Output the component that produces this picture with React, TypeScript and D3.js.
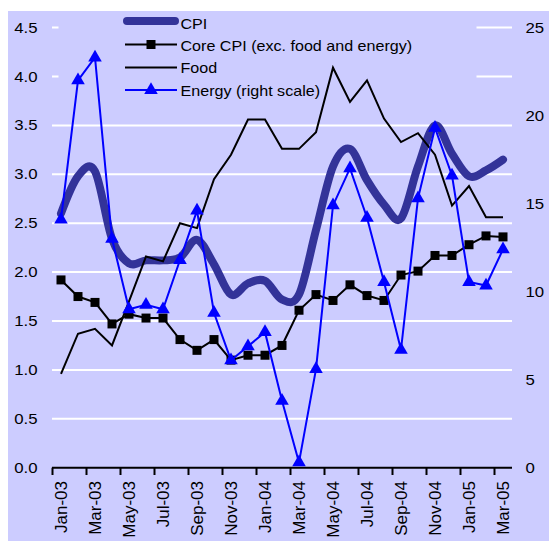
import React from "react";
import * as d3 from "d3";

const months = [
  "Jan-03","Feb-03","Mar-03","Apr-03","May-03","Jun-03","Jul-03","Aug-03","Sep-03","Oct-03","Nov-03","Dec-03",
  "Jan-04","Feb-04","Mar-04","Apr-04","May-04","Jun-04","Jul-04","Aug-04","Sep-04","Oct-04","Nov-04","Dec-04",
  "Jan-05","Feb-05","Mar-05",
];
const cpi = [2.60, 2.98, 3.03, 2.34, 2.09, 2.12, 2.12, 2.15, 2.33, 2.08, 1.77, 1.885, 1.91, 1.72, 1.77, 2.43, 3.08, 3.26, 2.94, 2.69, 2.55, 3.08, 3.50, 3.21, 2.98, 3.04, 3.15];
const core = [1.92, 1.75, 1.69, 1.47, 1.57, 1.53, 1.53, 1.31, 1.20, 1.31, 1.10, 1.15, 1.15, 1.25, 1.61, 1.77, 1.71, 1.87, 1.76, 1.71, 1.97, 2.01, 2.17, 2.17, 2.28, 2.37, 2.36];
const food = [0.96, 1.37, 1.42, 1.25, 1.70, 2.16, 2.11, 2.50, 2.45, 2.95, 3.20, 3.56, 3.56, 3.26, 3.26, 3.43, 4.09, 3.74, 3.96, 3.57, 3.33, 3.42, 3.20, 2.68, 2.88, 2.56, 2.56];
const energy = [14.1, 22.0, 23.3, 13.0, 9.0, 9.25, 9.0, 11.8, 14.6, 8.8, 6.1, 6.9, 7.7, 3.8, 0.3, 5.6, 14.9, 17.0, 14.2, 10.55, 6.7, 15.3, 19.3, 16.6, 10.55, 10.35, 12.4];
const leftTicks = [0, 0.5, 1, 1.5, 2, 2.5, 3, 3.5, 4, 4.5];
const rightTicks = [0, 5, 10, 15, 20, 25];
const legendLabels = ["CPI", "Core CPI (exc. food and energy)", "Food", "Energy (right scale)"];

const BG = "#CCCCFF";
const CPI_COLOR = "#333399";
const FONT = "'Liberation Sans', Arial, sans-serif";

export default function App() {
  const x = d3.scaleBand<string>().domain(months).range([52.5, 511.5]).padding(0);
  const cx = (i: number) => (x(months[i]) as number) + x.bandwidth() / 2;
  const yL = d3.scaleLinear().domain([0, 4.5]).range([467.7, 27.6]);
  const yR = d3.scaleLinear().domain([0, 25]).range([467.7, 27.6]);

  const cpiLine = d3.line<number>().x((_, i) => cx(i)).y((d) => yL(d)).curve(d3.curveCardinal.tension(0));
  const straightL = d3.line<number>().x((_, i) => cx(i)).y((d) => yL(d));
  const straightR = d3.line<number>().x((_, i) => cx(i)).y((d) => yR(d));
  const tri = d3.symbol().type(d3.symbolTriangle).size(80)() as string;

  const legendY = [21, 44.5, 67.5, 90];
  const legendBase = [29.3, 51, 73.3, 95.7];

  return (
    <svg width={549} height={543} style={{ position: "absolute", left: 0, top: 0, display: "block" }}>
      <rect x={8} y={11} width={541} height={530} fill={BG} />
      {leftTicks.filter((t) => t > 0).map((t) => (
        <line key={t} x1={52} x2={512} y1={yL(t)} y2={yL(t)} stroke="#fff" strokeWidth={2} />
      ))}
      <rect x={58.5} y={14} width={418} height={87} fill={BG} />
      {leftTicks.map((t) => (
        <text key={t} transform={`translate(37.5,${yL(t) + 5}) scale(1.2,1)`} textAnchor="end" fontFamily={FONT} fontSize={14} fill="#000">
          {t.toFixed(1)}
        </text>
      ))}
      {rightTicks.map((t) => (
        <text key={t} transform={`translate(525.5,${yR(t) + 5}) scale(1.2,1)`} textAnchor="start" fontFamily={FONT} fontSize={14} fill="#000">
          {t}
        </text>
      ))}
      <line x1={52} x2={512} y1={467.7} y2={467.7} stroke="#000" strokeWidth={2} />
      {months.map((m, i) =>
        i % 2 === 0 ? (
          <g key={m}>
            <line x1={x(m) as number} x2={x(m) as number} y1={467.7} y2={475} stroke="#000" strokeWidth={2} />
            <text transform={`translate(${cx(i) + 6},481) rotate(-90)`} textAnchor="end" fontFamily={FONT} fontSize={17} fill="#000">
              {m}
            </text>
          </g>
        ) : null
      )}
      <path d={cpiLine(cpi) as string} fill="none" stroke={CPI_COLOR} strokeWidth={8} strokeLinecap="round" strokeLinejoin="round" />
      <path d={straightL(core) as string} fill="none" stroke="#000" strokeWidth={2} />
      {core.map((v, i) => (
        <rect key={i} x={cx(i) - 4.5} y={yL(v) - 4.5} width={9} height={9} fill="#000" />
      ))}
      <path d={straightL(food) as string} fill="none" stroke="#000" strokeWidth={2} />
      <path d={straightR(energy) as string} fill="none" stroke="#0000FF" strokeWidth={2} />
      {energy.map((v, i) => (
        <path key={i} d={tri} transform={`translate(${cx(i)},${yR(v)})`} fill="#0000FF" />
      ))}
      <line x1={127} x2={175} y1={legendY[0]} y2={legendY[0]} stroke={CPI_COLOR} strokeWidth={8} strokeLinecap="round" />
      <line x1={125} x2={177} y1={legendY[1]} y2={legendY[1]} stroke="#000" strokeWidth={2} />
      <rect x={151 - 4.5} y={legendY[1] - 4.5} width={9} height={9} fill="#000" />
      <line x1={125} x2={177} y1={legendY[2]} y2={legendY[2]} stroke="#000" strokeWidth={2} />
      <line x1={125} x2={177} y1={legendY[3]} y2={legendY[3]} stroke="#0000FF" strokeWidth={2} />
      <path d={tri} transform={`translate(151,${legendY[3]})`} fill="#0000FF" />
      {legendLabels.map((l, i) => (
        <text key={l} transform={`translate(180.5,${legendBase[i]}) scale(1.15,1)`} fontFamily={FONT} fontSize={14} fill="#000">
          {l}
        </text>
      ))}
    </svg>
  );
}
